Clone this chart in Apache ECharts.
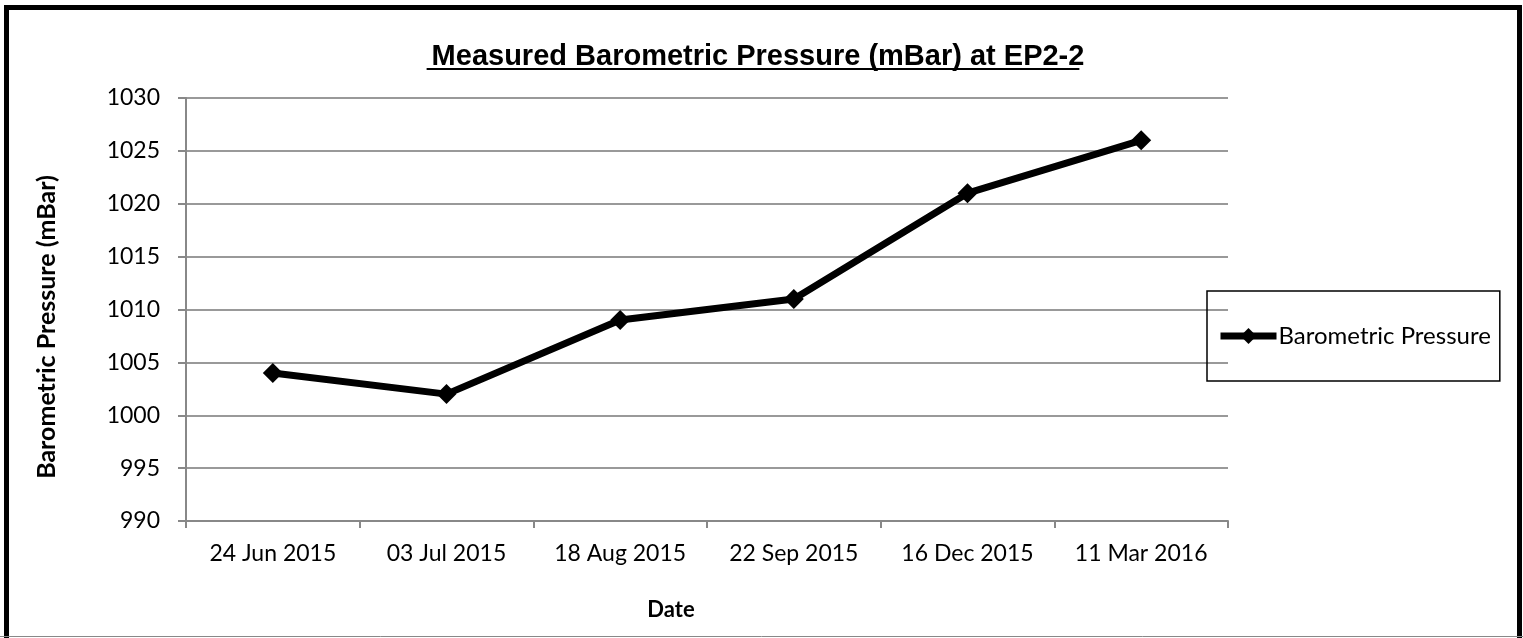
<!DOCTYPE html>
<html>
<head>
<meta charset="utf-8">
<script src="https://cdn.jsdelivr.net/npm/echarts@6/dist/echarts.min.js"></script>
<style>
  html, body { margin: 0; padding: 0; background: #fff; }
  #chart { width: 1523px; height: 638px; }
</style>
</head>
<body>
<div id="chart"></div>
<script>
// data
var dates = ['24 Jun 2015', '03 Jul 2015', '18 Aug 2015', '22 Sep 2015', '16 Dec 2015', '11 Mar 2016'];
var pressure = [1004, 1002, 1009, 1011, 1021, 1026];
var seriesName = 'Barometric Pressure';
var yMin = 990, yMax = 1030, yStep = 5;

var labelFont = 'Lato, "Open Sans", sans-serif';
var titleFont = '"Liberation Sans", Arial, sans-serif';
var titleText = 'Measured Barometric Pressure (mBar) at EP2-2';
var titleSize = 29;
var titleX = 753;
var diamond = 'path://M0,-1L1,0L0,1L-1,0Z';

// measure the title so the underline fits it
var ctx = document.createElement('canvas').getContext('2d');
ctx.font = 'bold ' + titleSize + 'px ' + titleFont;
var titleW = ctx.measureText(titleText).width;

var myChart = echarts.init(document.getElementById('chart'));

myChart.setOption({
  backgroundColor: '#fff',
  animation: false,
  title: {
    text: titleText,
    left: titleX,
    top: 37,
    textAlign: 'center',
    textStyle: {
      fontFamily: titleFont,
      fontWeight: 'bold',
      fontSize: titleSize,
      color: '#000'
    }
  },
  // outer frame + title underline
  graphic: [
    {
      type: 'rect',
      shape: { x: 6.5, y: 7.5, width: 1513, height: 640 },
      style: { fill: 'none', stroke: '#000', lineWidth: 5 },
      silent: true
    },
    {
      type: 'line',
      shape: { x1: 0, y1: 636.5, x2: 1523, y2: 636.5 },
      style: { stroke: '#888', lineWidth: 1 },
      silent: true
    },
    {
      type: 'line',
      shape: { x1: titleX - titleW / 2, y1: 69, x2: titleX + titleW / 2, y2: 69 },
      style: { stroke: '#000', lineWidth: 2 },
      silent: true
    }
  ],
  legend: {
    data: [seriesName],
    left: 1207,
    top: 291,
    orient: 'vertical',
    borderColor: '#000',
    borderWidth: 1.5,
    borderRadius: 0,
    padding: [33, 9, 33, 10],
    itemWidth: 56,
    itemHeight: 20,
    itemGap: 0,
    lineStyle: { width: 7, color: '#000' },
    textStyle: {
      fontFamily: labelFont,
      fontSize: 24,
      color: '#000',
      padding: [0, 0, 0, -3]
    }
  },
  grid: {
    left: 186,
    right: 295,
    top: 98,
    bottom: 117
  },
  xAxis: {
    type: 'category',
    data: dates,
    boundaryGap: true,
    name: 'Date',
    nameLocation: 'middle',
    nameGap: 78,
    nameTextStyle: {
      fontFamily: labelFont,
      fontWeight: 'bold',
      fontSize: 22,
      color: '#000',
      padding: [0, 72, 0, 0]
    },
    axisLine: { lineStyle: { color: '#888', width: 2 } },
    axisTick: { show: true, length: 7, lineStyle: { color: '#888', width: 2 } },
    axisLabel: {
      margin: 21,
      fontFamily: labelFont,
      fontSize: 23,
      color: '#000'
    },
    splitLine: { show: false }
  },
  yAxis: {
    type: 'value',
    min: yMin,
    max: yMax,
    interval: yStep,
    name: 'Barometric Pressure (mBar)',
    nameLocation: 'middle',
    nameGap: 127,
    nameTextStyle: {
      fontFamily: labelFont,
      fontWeight: 'bold',
      fontSize: 25,
      color: '#000',
      padding: [0, 35, 0, 0]
    },
    axisLine: { show: true, lineStyle: { color: '#888', width: 2 } },
    axisTick: { show: true, length: 8, lineStyle: { color: '#888', width: 2 } },
    axisLabel: {
      margin: 26,
      fontFamily: labelFont,
      fontSize: 23,
      color: '#000',
      formatter: function (v) { return String(v); }
    },
    splitLine: { show: true, lineStyle: { color: '#999', width: 2 } }
  },
  series: [{
    name: seriesName,
    type: 'line',
    data: pressure,
    symbol: diamond,
    symbolSize: 20,
    showAllSymbol: true,
    lineStyle: { color: '#000', width: 7 },
    itemStyle: { color: '#000' }
  }]
});
</script>
</body>
</html>
